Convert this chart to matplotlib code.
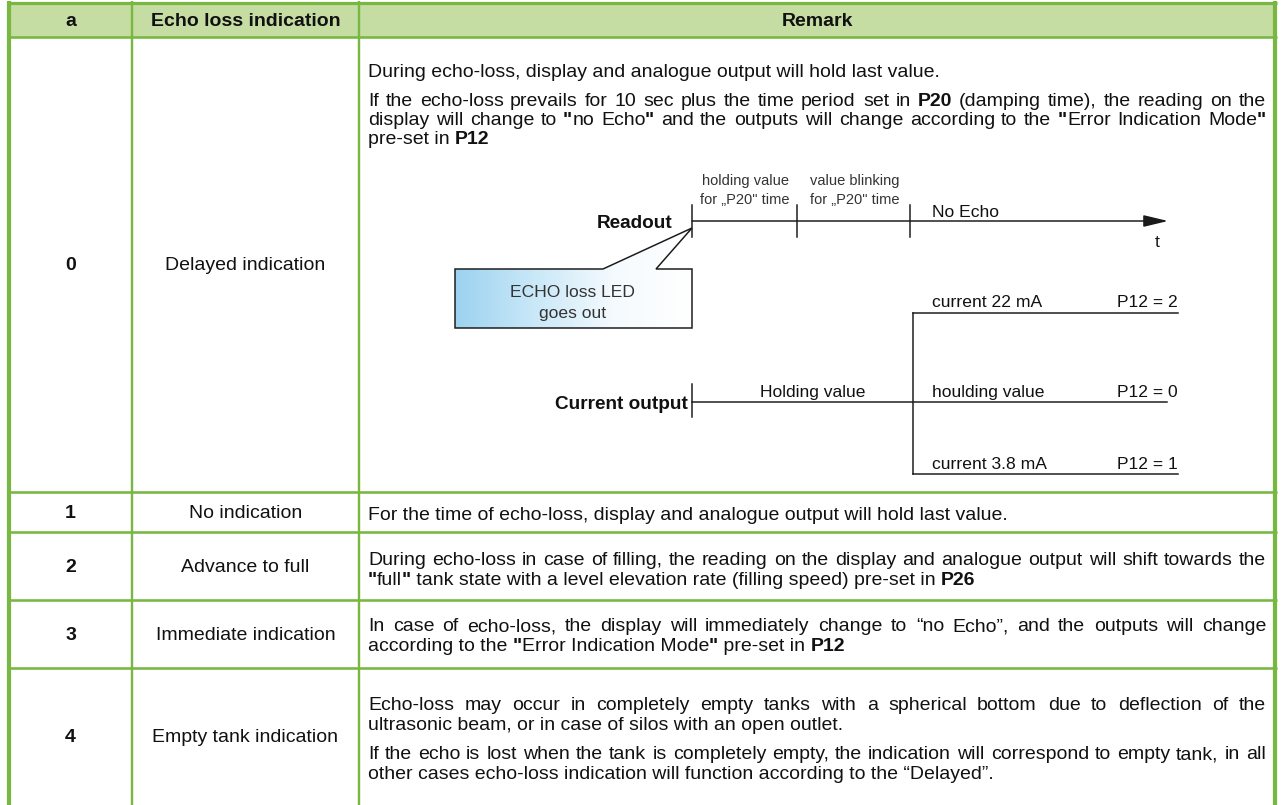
import numpy as np
import matplotlib
matplotlib.use("Agg")
import matplotlib.pyplot as plt
from matplotlib.patches import Polygon, Rectangle
from matplotlib.colors import LinearSegmentedColormap

# ---------------- data (table contents) ----------------
header_labels = ["a", "Echo loss indication", "Remark"]
codes = ["0", "1", "2", "3", "4"]
indications = ["Delayed indication", "No indication", "Advance to full",
               "Immediate indication", "Empty tank indication"]
# per row: paragraphs -> lines ; **x** marks bold words
remarks = [
    [["During echo-loss, display and analogue output will hold last value."],
     ["If the echo-loss prevails for 10 sec plus the time period set in **P20** (damping time), the reading on the",
      'display will change to **"**no Echo**"** and the outputs will change according to the **"**Error Indication Mode**"**',
      "pre-set in **P12**"]],
    [["For the time of echo-loss, display and analogue output will hold last value."]],
    [["During echo-loss in case of filling, the reading on the display and analogue output will shift towards the",
      '**"**full**"** tank state with a level elevation rate (filling speed) pre-set in **P26**']],
    [["In case of echo-loss, the display will immediately change to \u201cno Echo\u201d, and the outputs will change",
      'according to the **"**Error Indication Mode**"** pre-set in **P12**']],
    [["Echo-loss may occur in completely empty tanks with a spherical bottom due to deflection of the",
      "ultrasonic beam, or in case of silos with an open outlet."],
     ["If the echo is lost when the tank is completely empty, the indication will correspond to empty tank, in all",
      "other cases echo-loss indication will function according to the \u201cDelayed\u201d."]],
]
readout_label = "Readout"
current_label = "Current output"
phase_labels = [["holding value", "for \u201eP20\" time"], ["value blinking", "for \u201eP20\" time"]]
no_echo_label = "No Echo"
time_label = "t"
callout_lines = ["ECHO loss LED", "goes out"]
hold_label = "Holding value"
branch_left = ["current 22 mA", "houlding value", "current 3.8 mA"]
branch_right = ["P12 = 2", "P12 = 0", "P12 = 1"]

# ---------------- layout / style ----------------
W, H = 1282, 805
PT = 0.72                       # points per pixel at 100 dpi
FONT = "Liberation Sans"
GREEN = "#78b842"
HEAD_BG = "#c5dda2"
TXT = "#111111"
LINE = "#1a1a1a"
BODY = 19.5 * PT

col_x = [9, 132, 359, 1275]
row_y = [3, 37, 492, 532, 600, 668, 815]
text_x0, text_x1 = 368, 1266
row_first_base = [77, 520, 565, 631, 710]
row_line_gap = [19.5, 20, 20, 20, 20]
row_para_gap = [9, 0, 0, 0, 9]
label_y = [265, 513, 567, 635, 737]

fig = plt.figure(figsize=(W / 100, H / 100), dpi=100)
ax = fig.add_axes([0, 0, 1, 1])
ax.set_xlim(0, W)
ax.set_ylim(H, 0)
ax.axis("off")
renderer = fig.canvas.get_renderer()


def text_width(s, size, weight):
    t = ax.text(0, 0, s, fontsize=size, fontweight=weight, family=FONT)
    w = t.get_window_extent(renderer=renderer).width
    t.remove()
    return w


def runs_of(text):
    # split text into (piece, weight) runs according to **bold** markers
    parts = text.split("**")
    return [(p, "bold" if i % 2 == 1 else "normal") for i, p in enumerate(parts) if p]


def draw_runs(runs, x, yb, size):
    for s, wt in runs:
        ax.text(round(x), round(yb), s, fontsize=size, fontweight=wt, family=FONT,
                ha="left", va="baseline", color=TXT)
        x += text_width(s, size, wt)


def draw_line(line, x0, x1, yb, size, justify):
    if not justify:
        draw_runs(runs_of(line), x0, yb, size)
        return
    words = [runs_of(w) for w in line.split(" ")]
    totals = [sum(text_width(s, size, wt) for s, wt in wd) for wd in words]
    gap = (x1 - x0 - sum(totals)) / (len(words) - 1)
    x = x0
    for wd, tot in zip(words, totals):
        draw_runs(wd, x, yb, size)
        x += tot + gap


# header background
ax.add_patch(Rectangle((col_x[0], row_y[0]), col_x[-1] - col_x[0], row_y[1] - row_y[0],
                       facecolor=HEAD_BG, edgecolor="none", zorder=0))

# grid
for i, y in enumerate(row_y[:-1]):
    ax.plot([col_x[0] - 2, col_x[-1] + 2], [y, y], color=GREEN,
            lw=(3.2 if i == 0 else 2.6) * PT, solid_capstyle="butt", zorder=3)
for i, x in enumerate(col_x):
    outer = i in (0, len(col_x) - 1)
    ax.plot([x, x], [row_y[0] - 1.5, row_y[-1]], color=GREEN,
            lw=(4.2 if outer else 2.4) * PT, solid_capstyle="butt", zorder=3)

# header text
hy = (row_y[0] + row_y[1]) / 2 + 1
for j, lab in enumerate(header_labels):
    cx = (col_x[j] + col_x[j + 1]) / 2
    ax.text(cx, hy, lab, fontsize=BODY, fontweight="bold", family=FONT,
            ha="center", va="center", color=TXT)

# rows
for r in range(len(codes)):
    ax.text((col_x[0] + col_x[1]) / 2, label_y[r], codes[r], fontsize=BODY,
            fontweight="bold", family=FONT, ha="center", va="center", color=TXT)
    ax.text((col_x[1] + col_x[2]) / 2, label_y[r], indications[r], fontsize=BODY,
            family=FONT, ha="center", va="center", color=TXT)
    yb = row_first_base[r]
    for p, para in enumerate(remarks[r]):
        if p > 0:
            yb += row_para_gap[r]
        for k, line in enumerate(para):
            draw_line(line, text_x0, text_x1, yb, BODY, justify=(k < len(para) - 1))
            yb += row_line_gap[r]

# ---------------- diagram ----------------
DLW = 1.5 * PT
DSZ = 17.5 * PT
SSZ = 14.6 * PT
BSZ = 19 * PT
ry = 221
# readout axis with arrow
ax.annotate("", xy=(1168, ry), xytext=(692, ry),
            arrowprops=dict(arrowstyle="-|>,head_length=0.75,head_width=0.18",
                            lw=DLW, color=LINE, mutation_scale=20,
                            shrinkA=0, shrinkB=0), zorder=4)
for tx in (692, 797, 910):
    ax.plot([tx, tx], [205, 237], color=LINE, lw=DLW, zorder=4)
ax.text(672, 228, readout_label, fontsize=BSZ, fontweight="bold", family=FONT,
        ha="right", va="baseline", color=TXT)
for cx, (l1, l2) in zip((745, 855), phase_labels):
    ax.text(cx, 185, l1, fontsize=SSZ, family=FONT, ha="center", va="baseline", color="#333333")
    ax.text(cx, 204, l2, fontsize=SSZ, family=FONT, ha="center", va="baseline", color="#333333")
ax.text(932, 217, no_echo_label, fontsize=DSZ, family=FONT, ha="left", va="baseline", color=TXT)
ax.text(1157, 247, time_label, fontsize=DSZ, family=FONT, ha="center", va="baseline", color=TXT)

# callout
poly = [(455, 269), (603, 269), (692, 228), (656, 269), (692, 269), (692, 328), (455, 328)]
patch = Polygon(poly, closed=True, facecolor="none", edgecolor=LINE, lw=DLW, zorder=5)
ax.add_patch(patch)
cmap = LinearSegmentedColormap.from_list("g", ["#9cd2f0", "#c9e8f8", "#f4fafe", "#ffffff"])
grad = np.linspace(0, 1, 256).reshape(1, -1)
im = ax.imshow(grad, extent=[455, 692, 328, 221], cmap=cmap, aspect="auto",
               interpolation="bilinear", zorder=4)
im.set_clip_path(patch)
ax.set_xlim(0, W)
ax.set_ylim(H, 0)
ax.text(573, 297, callout_lines[0], fontsize=DSZ, family=FONT, ha="center", va="baseline",
        color="#333333", zorder=6)
ax.text(573, 318, callout_lines[1], fontsize=DSZ, family=FONT, ha="center", va="baseline",
        color="#333333", zorder=6)

# current output
cy = 402
ax.plot([692, 1167], [cy, cy], color=LINE, lw=DLW, zorder=4)
ax.plot([692, 692], [384, 417], color=LINE, lw=DLW, zorder=4)
ax.text(688, 409, current_label, fontsize=BSZ, fontweight="bold", family=FONT,
        ha="right", va="baseline", color=TXT)
ax.text(813, 397, hold_label, fontsize=DSZ, family=FONT, ha="center", va="baseline", color=TXT)
ax.plot([913, 913], [313, 474], color=LINE, lw=DLW, zorder=4)
ax.plot([913, 1178], [313, 313], color=LINE, lw=DLW, zorder=4)
ax.plot([913, 1178], [474, 474], color=LINE, lw=DLW, zorder=4)
for yb, l, rlab in zip((307, 397, 469), branch_left, branch_right):
    ax.text(932, yb, l, fontsize=DSZ, family=FONT, ha="left", va="baseline", color=TXT)
    ax.text(1178, yb, rlab, fontsize=DSZ, family=FONT, ha="right", va="baseline", color=TXT)

fig.savefig("out.png", dpi=100)
